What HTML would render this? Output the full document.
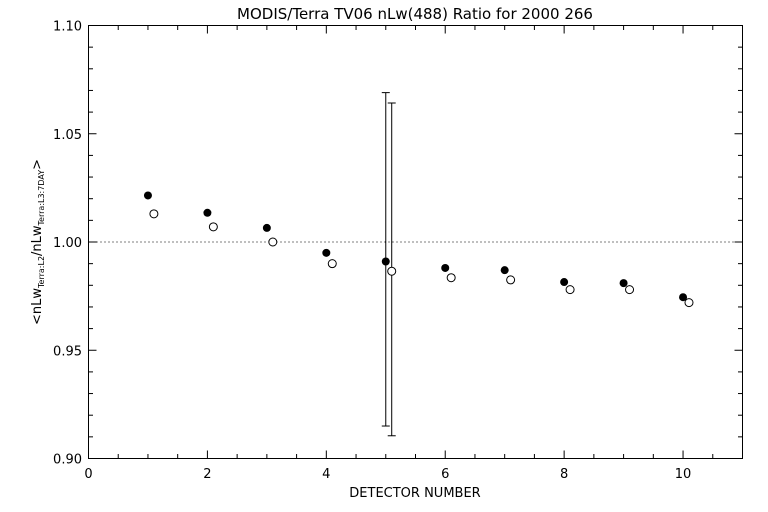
<!DOCTYPE html>
<html><head><meta charset="utf-8"><style>
html,body{margin:0;padding:0;background:#fff;}
svg{display:block;font-family:"DejaVu Sans","Liberation Sans",sans-serif;}
</style></head><body>
<svg id="chart" width="768" height="512" viewBox="0 0 768 512">
<text x="415" y="19" text-anchor="middle" font-size="15">MODIS/Terra TV06 nLw(488) Ratio for 2000 266</text>
<g id="axes"></g>
<g id="marks"></g>
<text x="415" y="497" text-anchor="middle" font-size="13">DETECTOR NUMBER</text>
<text transform="translate(41,242) rotate(-90)" text-anchor="middle" font-size="13">&lt;nLw<tspan font-size="8" dy="3">Terra:L2</tspan><tspan dy="-3">/nLw</tspan><tspan font-size="8" dy="3">Terra:L3:7DAY</tspan><tspan dy="-3">&gt;</tspan></text>
</svg>
<script>
const detectors=[1,2,3,4,5,6,7,8,9,10];
const filledVals=[1.0215,1.0135,1.0065,0.995,0.991,0.988,0.987,0.9815,0.981,0.9745];
const openVals=[1.013,1.007,1.000,0.990,0.9865,0.9835,0.9825,0.978,0.978,0.972];
const errDetector=[5];
const filledErrLow=[0.915];
const filledErrHigh=[1.069];
const openErrLow=[0.9105];
const openErrHigh=[1.0642];
const xTicks=[0,2,4,6,8,10];
const yTicks=[0.90,0.95,1.00,1.05,1.10];
const yTickLabels=["0.90","0.95","1.00","1.05","1.10"];
const X0=88.5,X1=742.5,Y0=458.5,Y1=25.5,xmin=0,xmax=11,ymin=0.9,ymax=1.1;
const sx=v=>X0+(v-xmin)/(xmax-xmin)*(X1-X0);
const sy=v=>Y0-(v-ymin)/(ymax-ymin)*(Y0-Y1);
const NS="http://www.w3.org/2000/svg";
function mk(tag,attrs,parent){const e=document.createElementNS(NS,tag);for(const k in attrs)e.setAttribute(k,attrs[k]);parent.appendChild(e);return e;}
const axes=document.getElementById('axes'),marks=document.getElementById('marks');
let fr=mk('rect',{x:X0,y:Y1,width:X1-X0,height:Y0-Y1,fill:'none',stroke:'#000','stroke-width':1},axes);


let ref=mk('line',{x1:X0,x2:X1,y1:sy(1.0),y2:sy(1.0),stroke:'#000','stroke-dasharray':'1,3'},axes);


for(let v=0;v<=11.001;v+=0.5){const x=sx(v);const major=Math.abs(v%2)<1e-6;const L=major?8:4.5;
 mk('line',{x1:x,x2:x,y1:Y0,y2:Y0-L,stroke:'#000'},axes);mk('line',{x1:x,x2:x,y1:Y1,y2:Y1+L,stroke:'#000'},axes);}
for(let i=0;i<=20;i++){const v=0.9+i*0.01;const y=sy(v);const major=i%5===0;const L=major?8:4.5;
 mk('line',{x1:X0,x2:X0+L,y1:y,y2:y,stroke:'#000'},axes);mk('line',{x1:X1,x2:X1-L,y1:y,y2:y,stroke:'#000'},axes);}
xTicks.forEach(v=>{const t=mk('text',{x:sx(v),y:478,'text-anchor':'middle','font-size':13},axes);t.textContent=v;
 
 });
yTicks.forEach((v,i)=>{const t=mk('text',{x:82,y:sy(v)+5,'text-anchor':'end','font-size':13},axes);t.textContent=yTickLabels[i];
 
 });
errDetector.forEach((d,i)=>{
 [[d,filledErrLow[i],filledErrHigh[i]],[d+0.1,openErrLow[i],openErrHigh[i]]].forEach(([x,lo,hi])=>{
  const g=mk('g',{},marks);
  
  
  const cx=sx(x);
  mk('line',{x1:cx,x2:cx,y1:sy(lo),y2:sy(hi),stroke:'#000'},g);
  mk('line',{x1:cx-4,x2:cx+4,y1:sy(lo),y2:sy(lo),stroke:'#000'},g);
  mk('line',{x1:cx-4,x2:cx+4,y1:sy(hi),y2:sy(hi),stroke:'#000'},g);
 });
});
detectors.forEach((d,i)=>{
 const c=mk('circle',{cx:sx(d),cy:sy(filledVals[i]),r:4,fill:'#000'},marks);
 
 
 const o=mk('circle',{cx:sx(d+0.1),cy:sy(openVals[i]),r:4,fill:'#fff',stroke:'#000','stroke-width':1},marks);
 
 
});
</script>
</body></html>
